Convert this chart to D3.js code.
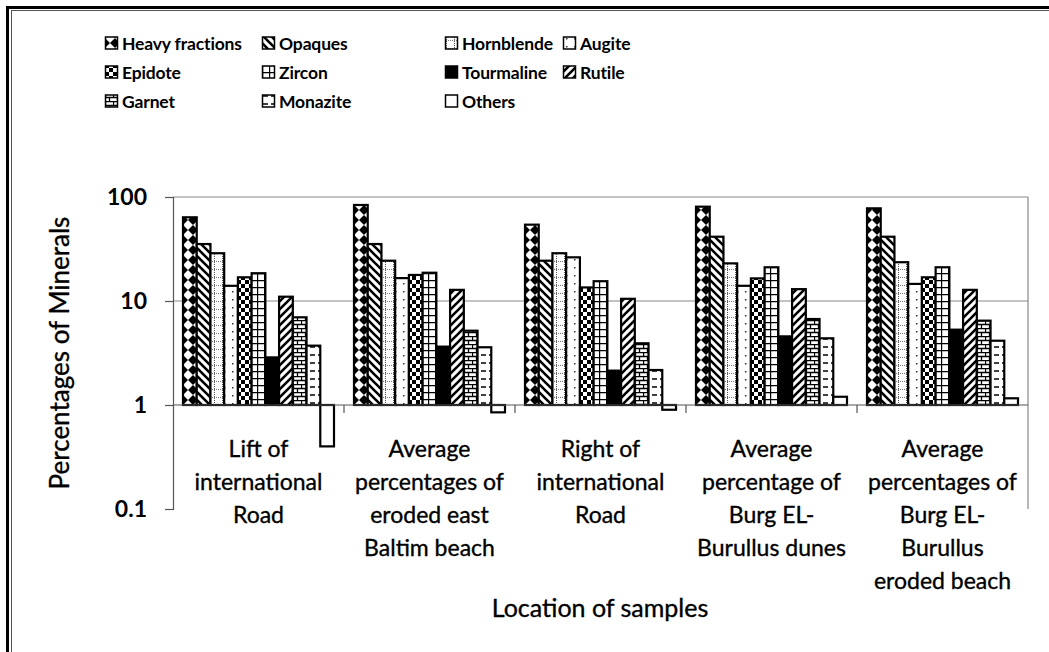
<!DOCTYPE html>
<html>
<head>
<meta charset="utf-8">
<script src="https://cdn.jsdelivr.net/npm/d3@7"></script>
<style>
  body { margin: 0; background: #fff; }
  svg { display: block; }
  text { font-family: Lato, "Open Sans", sans-serif; fill: #000; }
  .lbl { stroke: #000; stroke-width: 0.35px; }
</style>
</head>
<body>
<div id="container"></div>
<script>
// locations (label lines)
const locations = [
  ["Lift of", "international", "Road"],
  ["Average", "percentages of", "eroded east", "Baltim beach"],
  ["Right of", "international", "Road"],
  ["Average", "percentage of", "Burg EL-", "Burullus dunes"],
  ["Average", "percentages of", "Burg EL-", "Burullus", "eroded beach"]
];
const minerals = ["Heavy fractions", "Opaques", "Hornblende", "Augite", "Epidote", "Zircon",
                  "Tourmaline", "Rutile", "Garnet", "Monazite", "Others"];

// percentages per location, in mineral order
const liftRoad     = [63.8, 35.3, 28.8, 14.0, 16.9, 18.5, 2.87, 11.0, 6.97, 3.72, 0.40];
const eastBaltim   = [83.8, 35.3, 24.4, 16.6, 17.8, 18.7, 3.64, 12.8, 5.18, 3.59, 0.85];
const rightRoad    = [54.2, 24.4, 28.8, 26.3, 13.5, 15.5, 2.14, 10.5, 3.92, 2.17, 0.90];
const burgDunes    = [80.7, 41.5, 23.0, 14.0, 16.5, 21.1, 4.57, 13.0, 6.71, 4.38, 1.20];
const burgEroded   = [77.8, 41.5, 23.6, 14.6, 16.9, 21.1, 5.30, 12.8, 6.47, 4.15, 1.16];
const values = [liftRoad, eastBaltim, rightRoad, burgDunes, burgEroded];

const yTicks = [0.1, 1, 10, 100];

const w = 1049, h = 652;
const plotL = 173, plotR = 1028, plotT = 197, plotB = 509;

const svg = d3.select("#container").append("svg")
  .attr("width", w).attr("height", h);

// ---- fill patterns (one per mineral)
const defs = svg.append("defs");
function pat(id, size) {
  return defs.append("pattern").attr("id", id)
    .attr("patternUnits", "userSpaceOnUse")
    .attr("width", size).attr("height", size);
}
let p;
// heavy fractions: diamonds
p = pat("p0", 10);
p.append("rect").attr("width", 10).attr("height", 10).attr("fill", "#000");
p.append("path").attr("d", "M5,0 L10,5 L5,10 L0,5 Z").attr("fill", "#fff");
// opaques: wide downward diagonal
p = pat("p1", 8);
p.append("rect").attr("width", 8).attr("height", 8).attr("fill", "#fff");
p.append("path").attr("d", "M-2,-2 L10,10 M-2,6 L2,10 M6,-2 L10,2")
  .attr("stroke", "#000").attr("stroke-width", 2.6);
// hornblende: dotted grid
p = pat("p2", 8);
p.append("rect").attr("width", 8).attr("height", 8).attr("fill", "#fff");
[0, 2, 4, 6].forEach(k => {
  p.append("rect").attr("x", 1).attr("y", k).attr("width", 1).attr("height", 1).attr("fill", "#555");
  p.append("rect").attr("x", k + 1).attr("y", 5).attr("width", 1).attr("height", 1).attr("fill", "#777");
});
// augite: sparse dots
p = pat("p3", 8);
p.append("rect").attr("width", 8).attr("height", 8).attr("fill", "#fff");
p.append("rect").attr("x", 3).attr("y", 3).attr("width", 1.5).attr("height", 1.5).attr("fill", "#333");
// epidote: checkerboard
p = pat("p4", 8);
p.append("rect").attr("width", 8).attr("height", 8).attr("fill", "#fff");
p.append("rect").attr("width", 4).attr("height", 4).attr("fill", "#000");
p.append("rect").attr("x", 4).attr("y", 4).attr("width", 4).attr("height", 4).attr("fill", "#000");
// zircon: grid
p = pat("p5", 7);
p.append("rect").attr("width", 7).attr("height", 7).attr("fill", "#fff");
p.append("path").attr("d", "M0,0.5 H7 M0.5,0 V7").attr("stroke", "#000").attr("stroke-width", 1.4);
// tourmaline: solid (plain fill)
// rutile: wide upward diagonal
p = pat("p7", 8);
p.append("rect").attr("width", 8).attr("height", 8).attr("fill", "#fff");
p.append("path").attr("d", "M-2,10 L10,-2 M-2,2 L2,-2 M6,10 L10,6")
  .attr("stroke", "#000").attr("stroke-width", 2.6);
// garnet: horizontal brick
p = pat("p8", 8);
p.append("rect").attr("width", 8).attr("height", 8).attr("fill", "#fff");
p.append("path").attr("d", "M0,0.5 H8 M0,4.5 H8 M0.5,0 V4 M4.5,4 V8")
  .attr("stroke", "#000").attr("stroke-width", 1.3);
// monazite: dashed horizontal
p = pat("p9", 8);
p.append("rect").attr("width", 8).attr("height", 8).attr("fill", "#fff");
p.append("path").attr("d", "M1,3 H6").attr("stroke", "#000").attr("stroke-width", 1.5);

const fills = minerals.map((m, i) => i === 6 ? "#000" : i === 10 ? "#fff" : "url(#p" + i + ")");

// ---- page frame (double line at top and left)
svg.append("rect").attr("x", 6).attr("y", 6).attr("width", 1100).attr("height", 3).attr("fill", "#000");
svg.append("rect").attr("x", 6).attr("y", 6).attr("width", 3).attr("height", 700).attr("fill", "#000");
svg.append("rect").attr("x", 11).attr("y", 10).attr("width", 1100).attr("height", 1).attr("fill", "#555");
svg.append("rect").attr("x", 11).attr("y", 10).attr("width", 1).attr("height", 700).attr("fill", "#555");

// ---- scales
const y = d3.scaleLog().domain([0.1, 100]).range([plotB, plotT]);
const x0 = d3.scaleBand().domain(d3.range(locations.length)).range([plotL, plotR]);
const x1 = d3.scaleBand().domain(d3.range(minerals.length))
  .range([10, x0.bandwidth() - 10]);

// gridlines + plot border
[10, 100].forEach(v => {
  svg.append("line").attr("x1", plotL).attr("x2", plotR)
    .attr("y1", y(v)).attr("y2", y(v))
    .attr("stroke", "#888").attr("stroke-width", 1.2);
});
svg.append("line").attr("x1", plotR).attr("x2", plotR)
  .attr("y1", plotT).attr("y2", plotB)
  .attr("stroke", "#888").attr("stroke-width", 1.2);

// bars
const groups = svg.selectAll("g.loc")
  .data(values)
  .enter().append("g")
  .attr("class", "loc")
  .attr("transform", (d, i) => "translate(" + x0(i) + ",0)");

groups.selectAll("rect")
  .data(d => d)
  .enter().append("rect")
  .attr("x", (d, i) => x1(i))
  .attr("y", d => Math.min(y(d), y(1)))
  .attr("width", x1.bandwidth())
  .attr("height", d => Math.abs(y(d) - y(1)))
  .attr("fill", (d, i) => fills[i])
  .attr("stroke", "#000")
  .attr("stroke-width", 2.2);

// category axis at 1
svg.append("line").attr("x1", plotL).attr("x2", plotR)
  .attr("y1", y(1)).attr("y2", y(1))
  .attr("stroke", "#555").attr("stroke-width", 1.2);
svg.selectAll("line.sep")
  .data(d3.range(1, locations.length))
  .enter().append("line")
  .attr("class", "sep")
  .attr("x1", d => x0(d)).attr("x2", d => x0(d))
  .attr("y1", y(1)).attr("y2", y(1) + 8)
  .attr("stroke", "#555").attr("stroke-width", 1.2);

// y axis
const yAxis = d3.axisLeft(y).tickValues(yTicks).tickFormat(d => d).tickSize(8).tickPadding(18);
const ya = svg.append("g")
  .attr("transform", "translate(" + plotL + ",0)")
  .call(yAxis);
ya.select(".domain").attr("stroke", "#555").attr("stroke-width", 1.2);
ya.selectAll(".tick line").attr("stroke", "#555").attr("stroke-width", 1.2);
ya.selectAll(".tick text")
  .style("font-family", "Lato, sans-serif")
  .style("font-size", "23px").style("font-weight", "bold").attr("fill", "#000");

// category labels
locations.forEach((lines, i) => {
  const t = svg.append("text")
    .attr("class", "lbl")
    .attr("text-anchor", "middle")
    .style("font-size", "23px");
  lines.forEach((ln, k) => {
    t.append("tspan")
      .attr("x", x0(i) + x0.bandwidth() / 2)
      .attr("y", 457 + k * 33)
      .text(ln);
  });
});

// axis titles
svg.append("text")
  .attr("class", "lbl")
  .attr("x", 600).attr("y", 617)
  .attr("text-anchor", "middle")
  .style("font-size", "25px")
  .text("Location of samples");

svg.append("text")
  .attr("class", "lbl")
  .attr("transform", "translate(69,353)rotate(-90)")
  .attr("text-anchor", "middle")
  .style("font-size", "26px")
  .text("Percentages of Minerals");

// legend
const legCols = [105, 262, 445, 563];
const legRows = [43, 72, 101];
const legend = svg.selectAll("g.leg")
  .data(minerals)
  .enter().append("g")
  .attr("class", "leg")
  .attr("transform", (d, i) => "translate(" + legCols[i % 4] + "," + legRows[Math.floor(i / 4)] + ")");
legend.append("rect")
  .attr("x", 0.5).attr("y", -6)
  .attr("width", 12).attr("height", 12)
  .attr("fill", (d, i) => fills[i])
  .attr("stroke", "#000").attr("stroke-width", 1.5);
legend.append("text")
  .attr("x", 17).attr("y", 6.5)
  .style("font-size", "17.5px").style("font-weight", "bold")
  .style("letter-spacing", "-0.15px")
  .text(d => d);
</script>
</body>
</html>
